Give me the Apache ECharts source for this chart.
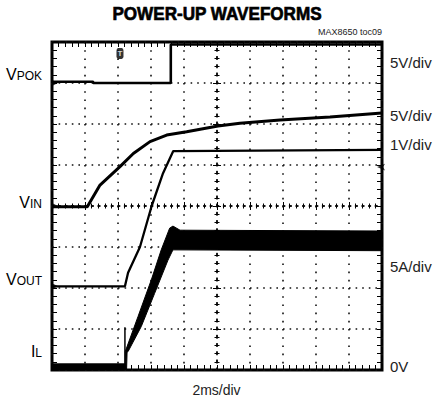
<!DOCTYPE html>
<html>
<head>
<meta charset="utf-8">
<script src="https://cdn.jsdelivr.net/npm/echarts@6/dist/echarts.min.js"></script>
<style>
html,body{margin:0;padding:0;background:#fff;}
#chart{width:433px;height:405px;}
</style>
</head>
<body>
<div id="chart"></div>
<script>
// ---- data (x in ms, 2 ms/div; y in screen divisions, 0 = bottom) ----
const xDivisions = [0, 2, 4, 6, 8, 10, 12, 14, 16, 18, 20];
const yDivisions = [0, 1, 2, 3, 4, 5, 6, 7, 8];

const vpokX = [0, 2.5, 2.5, 7.2, 7.2, 20];
const vpokY = [7.03, 7.03, 7.0, 7.0, 7.94, 7.94];

const vinX = [0, 2.14, 2.91, 4.12, 4.93, 5.94, 6.95, 8.16, 10.06, 11.39, 13.82, 16.85, 20];
const vinY = [3.98, 3.98, 4.51, 4.96, 5.28, 5.57, 5.73, 5.81, 5.95, 6.02, 6.10, 6.17, 6.27];

const voutX = [0, 4.42, 4.61, 5.33, 6.04, 6.73, 7.35, 20];
const voutY = [2.04, 2.04, 2.37, 3.0, 4.0, 4.80, 5.34, 5.37];

// inductor current: upper and lower envelope of the switching band
const ilUpperX = [0, 4.44, 4.44, 5.21, 6.02, 6.62, 7.13, 7.33, 7.76, 20];
const ilUpperY = [0.15, 0.15, 0.45, 1.30, 2.20, 2.93, 3.46, 3.51, 3.41, 3.39];
const ilLowerX = [0, 4.52, 4.55, 4.61, 5.41, 6.22, 7.03, 7.33, 20];
const ilLowerY = [0.01, 0.01, 0.43, 0.45, 1.06, 1.87, 2.68, 2.93, 2.91];
const ilSpikeX = [4.42, 4.42];
const ilSpikeY = [0.05, 1.04];

const triggerMark = [4.12, 7.72];
const levelMarks = [[0, 7.0], [0, 4.0], [0, 2.04]];
const rightArrow = [19.7, 4.95];

const leftLabels = [
  {main: 'V', sub: 'POK', y: 76},
  {main: 'V', sub: 'IN', y: 204},
  {main: 'V', sub: 'OUT', y: 281},
  {main: 'I', sub: 'L', y: 353}
];
const rightLabels = [
  {text: '5V/div', y: 64},
  {text: '5V/div', y: 117},
  {text: '1V/div', y: 146},
  {text: '5A/div', y: 268},
  {text: '0V', y: 368}
];

const pairs = (xs, ys) => xs.map((x, i) => [x, ys[i]]);

const FONT = 'Liberation Sans';
const chart = echarts.init(document.getElementById('chart'), null, {renderer: 'svg'});

const dotH = {color: '#111', width: 1.6, type: [1.6, 5.0]};
const dotV = {color: '#111', width: 1.6, type: [1.6, 6.6]};
const tickStyle = {color: '#000', width: 1};

function axis(kind, grid, pos, opts) {
  const isX = kind === 'x';
  const base = {
    type: 'value', gridIndex: grid, position: pos,
    min: 0, max: isX ? 20 : 8, interval: isX ? 2 : 1,
    axisLine: {show: false, onZero: false},
    axisTick: {show: false},
    minorTick: {show: false},
    axisLabel: {show: false},
    splitLine: {show: false},
    minorSplitLine: {show: false}
  };
  if (opts.ticks) {
    base.axisTick = {show: true, inside: true, length: opts.major, lineStyle: tickStyle};
    base.minorTick = {show: true, splitNumber: 5, length: opts.minor, lineStyle: tickStyle};
  }
  if (opts.line) base.axisLine = {show: true, onZero: false, lineStyle: isX ? dotH : dotV};
  if (opts.split) base.splitLine = {show: true, lineStyle: isX ? dotV : dotH};
  if (opts.hidden) base.show = false;
  return base;
}

const graphics = [];
leftLabels.forEach(l => {
  graphics.push({
    type: 'text', right: 433 - 42, top: l.y - 10,
    style: {
      text: '{m|' + l.main + '}{s|' + l.sub + '}',
      rich: {
        m: {fontFamily: FONT, fontSize: 16, color: '#222', lineHeight: 20, verticalAlign: 'bottom'},
        s: {fontFamily: FONT, fontSize: 12, color: '#222', lineHeight: 20, verticalAlign: 'bottom', padding: [4, 0, 0, 0]}
      }
    }
  });
});
rightLabels.forEach(l => {
  graphics.push({
    type: 'text', left: 390, top: l.y - 9,
    style: {text: l.text, fontFamily: FONT, fontSize: 15, fill: '#222'}
  });
});
graphics.push({
  type: 'text', x: 217, y: 4, scaleX: 0.9,
  style: {text: 'POWER-UP WAVEFORMS', fontFamily: FONT, fontWeight: 'bold', fontSize: 19, fill: '#000',
          stroke: '#000', lineWidth: 0.7, textAlign: 'center', textVerticalAlign: 'top'}
});
graphics.push({
  type: 'text', right: 433 - 382, top: 27,
  style: {text: 'MAX8650 toc09', fontFamily: FONT, fontSize: 9, fill: '#222'}
});
graphics.push({
  type: 'text', left: 'center', top: 383,
  style: {text: '2ms/div', fontFamily: FONT, fontSize: 14, fill: '#222'}
});

const lineSeries = (name, xs, ys, w) => ({
  name: name, type: 'line', xAxisIndex: 0, yAxisIndex: 0,
  data: pairs(xs, ys), showSymbol: false, symbol: 'none',
  lineStyle: {color: '#000', width: w}, z: 5, animation: false
});

chart.setOption({
  animation: false,
  backgroundColor: '#fff',
  grid: [
    {left: 52, top: 42, width: 330, height: 328, show: true, borderColor: '#000', borderWidth: 3, backgroundColor: 'transparent'},
    {left: 52, top: 42, width: 330, height: 164},
    {left: 52, top: 206, width: 330, height: 164},
    {left: 52, top: 42, width: 165, height: 328},
    {left: 217, top: 42, width: 165, height: 328}
  ],
  xAxis: [
    axis('x', 0, 'bottom', {ticks: true, major: 5, minor: 5, split: true}),
    axis('x', 0, 'top', {ticks: true, major: 5, minor: 5}),
    axis('x', 1, 'bottom', {ticks: true, major: 4, minor: 2.5, line: true}),
    axis('x', 2, 'top', {ticks: true, major: 4, minor: 2.5, line: true}),
    axis('x', 3, 'bottom', {hidden: true}),
    axis('x', 4, 'bottom', {hidden: true})
  ],
  yAxis: [
    axis('y', 0, 'left', {ticks: true, major: 5, minor: 5, split: true}),
    axis('y', 0, 'right', {ticks: true, major: 5, minor: 5}),
    axis('y', 1, 'left', {hidden: true}),
    axis('y', 2, 'left', {hidden: true}),
    axis('y', 3, 'right', {ticks: true, major: 4, minor: 2.5, line: true}),
    axis('y', 4, 'left', {ticks: true, major: 4, minor: 2.5, line: true})
  ],
  graphic: graphics,
  series: [
    lineSeries('VPOK', vpokX, vpokY, 2.6),
    lineSeries('VIN', vinX, vinY, 3),
    lineSeries('VOUT', voutX, voutY, 2.3),
    lineSeries('IL spike', ilSpikeX, ilSpikeY, 1.5),
    {
      name: 'IL', type: 'custom', xAxisIndex: 0, yAxisIndex: 0, z: 5,
      data: [[0, 0]],
      renderItem: function (params, api) {
        const pts = [];
        for (let i = 0; i < ilUpperX.length; i++) pts.push(api.coord([ilUpperX[i], ilUpperY[i]]));
        for (let i = ilLowerX.length - 1; i >= 0; i--) pts.push(api.coord([ilLowerX[i], ilLowerY[i]]));
        return {type: 'polygon', shape: {points: pts}, style: {fill: '#000', stroke: '#000', lineWidth: 1}};
      }
    },
    {
      name: 'markers', type: 'scatter', xAxisIndex: 0, yAxisIndex: 0, z: 6,
      data: levelMarks, symbol: 'triangle', symbolRotate: -90, symbolSize: 6, symbolOffset: [3, 0],
      itemStyle: {color: '#000'}
    },
    {
      name: 'trigger', type: 'scatter', xAxisIndex: 0, yAxisIndex: 0, z: 7,
      data: [triggerMark], symbol: 'roundRect', symbolSize: [7, 11],
      itemStyle: {color: '#000'},
      label: {show: true, position: 'inside', formatter: 'T', color: '#fff', fontSize: 8, fontWeight: 'bold', fontFamily: FONT}
    },
    {
      name: 'arrow', type: 'scatter', xAxisIndex: 0, yAxisIndex: 0, z: 7,
      data: [rightArrow], symbol: 'arrow', symbolRotate: 90, symbolSize: [5, 8],
      itemStyle: {color: '#000'}
    }
  ]
});
</script>
</body>
</html>
